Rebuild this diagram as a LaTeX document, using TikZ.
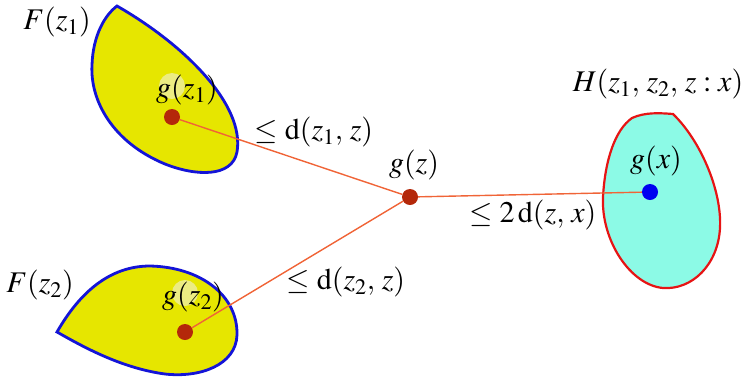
\documentclass[tikz,border=0pt]{standalone}
\usepackage{mathptmx}
\usetikzlibrary{positioning}

\definecolor{setyellow}{RGB}{230,230,0}
\definecolor{setblue}{RGB}{20,20,215}
\definecolor{setcyan}{RGB}{140,250,230}
\definecolor{setred}{RGB}{230,20,20}
\definecolor{linkorange}{RGB}{240,100,55}
\definecolor{dotred}{RGB}{180,40,10}
\definecolor{dotblue}{RGB}{0,0,240}
\definecolor{glow}{RGB}{236,236,130}

\begin{document}
\begin{tikzpicture}[x=1pt, y=-1pt,
    font=\fontsize{30}{34}\selectfont,
    yellowset/.style={fill=setyellow, draw=setblue, line width=2.8pt},
    cyanset/.style={fill=setcyan, draw=setred, line width=2.2pt},
    dot/.style={circle, inner sep=0pt, minimum size=16pt, fill=dotred},
    link/.style={draw=linkorange, line width=1.4pt}]
  \useasboundingbox (0,0) rectangle (752,376);
  % the two yellow sets and the cyan one
  \path[yellowset] (117,6) .. controls (185,45) and (245,105) .. (237,152)
    .. controls (232,178) and (195,176) .. (165,164)
    .. controls (112,142) and (90,100) .. (92,65)
    .. controls (93,35) and (105,15) .. (117,6) -- cycle;
  \path[yellowset] (57,332) .. controls (80,292) and (110,266) .. (150,266)
    .. controls (200,267) and (238,295) .. (237,335)
    .. controls (236,365) and (200,378) .. (165,374)
    .. controls (120,368) and (80,345) .. (57,332) -- cycle;
  \path[cyanset] (673,114) .. controls (700,140) and (722,190) .. (720,228)
    .. controls (718,265) and (692,290) .. (663,288)
    .. controls (630,285) and (601,240) .. (603,197)
    .. controls (605,160) and (615,130) .. (632,118)
    .. controls (645,112) and (660,113) .. (673,114) -- cycle;
  \fill[glow] (172,86) circle (13);
  \fill[glow] (185,293) circle (13);
  % points
  \node[dot] (gz1) at (172,117) {};
  \node[dot] (gz2) at (185,332) {};
  \node[dot] (gz) at (410,197) {};
  \node[dot, fill=dotblue] (gx) at (650,192) {};
  \path[link] (gz1) -- (gz);
  \path[link] (gz2) -- (gz);
  \path[link] (gz) -- (gx);
  % labels
  \node (Fz1) at (57,22) {$F(z_1)$};
  \node (Fz2) at (40,285) {$F(z_2)$};
  \node (Hx) at (658,84) {$H(z_1,\,z_2,\,z:x)$};
  \node (gz1lab) at (187,90) {$g(z_1)$};
  \node (gz2lab) at (193,297) {$g(z_2)$};
  \node (gzlab) at (414,165) {$g(z)$};
  \node (gxlab) at (656,161) {$g(x)$};
  \node (d1) at (314,132) {$\leq \mathrm{d}(z_1,\,z)$};
  \node (d2) at (346,282) {$\leq \mathrm{d}(z_2,\,z)$};
  \node (d3) at (533,215) {$\leq 2\,\mathrm{d}(z,\,x)$};
\end{tikzpicture}
\end{document}
